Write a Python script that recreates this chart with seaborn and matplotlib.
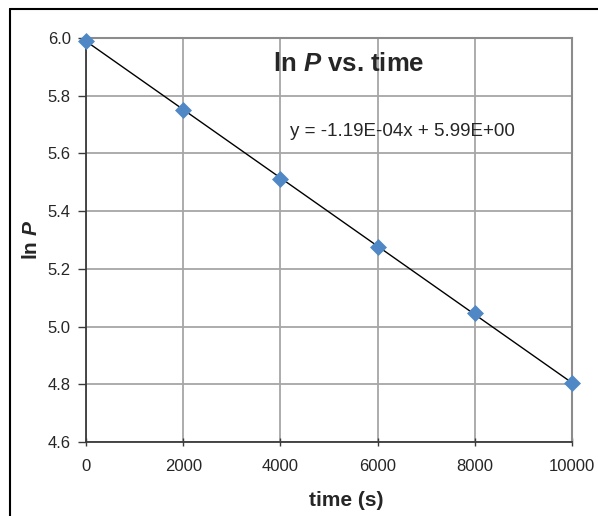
import numpy as np
import pandas as pd
import matplotlib
matplotlib.use("Agg")
import matplotlib.pyplot as plt
from matplotlib.lines import Line2D
import seaborn as sns

# data
time_s = [0, 2000, 4000, 6000, 8000, 10000]
ln_p = [5.99, 5.752, 5.513, 5.277, 5.047, 4.803]
x_ticks = [0, 2000, 4000, 6000, 8000, 10000]
y_ticks = [4.6, 4.8, 5.0, 5.2, 5.4, 5.6, 5.8, 6.0]
equation = "y = -1.19E-04x + 5.99E+00"

df = pd.DataFrame({"time": time_s, "lnP": ln_p})

sns.set_style("white")
plt.rcParams["font.family"] = ["Liberation Sans", "DejaVu Sans"]
plt.rcParams["mathtext.fontset"] = "custom"
plt.rcParams["mathtext.rm"] = "Liberation Sans"
plt.rcParams["mathtext.bf"] = "Liberation Sans:bold"
plt.rcParams["mathtext.bfit"] = "Liberation Sans:italic:bold"

fig = plt.figure(figsize=(5.98, 5.16), dpi=100)
ax = fig.add_axes([0.1438, 0.1434, 0.8127, 0.783])

# linear trendline
slope, intercept = np.polyfit(df["time"], df["lnP"], 1)
fit = pd.DataFrame({"time": [min(time_s), max(time_s)]})
fit["lnP"] = slope * fit["time"] + intercept
sns.lineplot(data=fit, x="time", y="lnP", color="black", linewidth=1.0, ax=ax, zorder=3)

sns.scatterplot(data=df, x="time", y="lnP", marker="D", s=75, color="#5088C6",
                linewidth=0, ax=ax, zorder=4, clip_on=False)

ax.set_xlim(0, 10000)
ax.set_ylim(4.6, 6.0)
ax.set_xticks(x_ticks)
ax.set_yticks(y_ticks)
ax.set_xticklabels([str(t) for t in x_ticks])
ax.set_yticklabels([f"{t:.1f}" for t in y_ticks])
ax.grid(True, color="#A6A6A6", linewidth=1.3)
ax.set_axisbelow(True)

for side in ["left", "bottom"]:
    ax.spines[side].set_color("#3A3A3A")
    ax.spines[side].set_linewidth(1.3)
for side in ["top", "right"]:
    ax.spines[side].set_color("#8C8C8C")
    ax.spines[side].set_linewidth(1.5)

ax.tick_params(axis="y", direction="out", length=6, width=1, color="#3A3A3A",
               labelsize=12, pad=5, left=True)
ax.tick_params(axis="x", direction="inout", length=6, width=1, color="#3A3A3A",
               labelsize=12, pad=9, bottom=True)

ax.set_xlabel("time (s)", fontsize=15, fontweight="bold")
ax.xaxis.set_label_coords(0.535, -0.122)
ax.set_ylabel(r"ln $\mathbfit{P}$", fontsize=15, fontweight="bold")
ax.yaxis.set_label_coords(-0.093, 0.5)

ax.text(0.541, 0.935, r"ln $\mathbfit{P}$ vs. time", transform=ax.transAxes,
        ha="center", va="center", fontsize=18.5, fontweight="bold")
ax.text(0.419, 0.768, equation, transform=ax.transAxes,
        ha="left", va="center", fontsize=13.5)

# outer frame edges (top and left)
fig.add_artist(Line2D([0.016, 1.0], [0.9826, 0.9826], color="black", linewidth=1.5,
                      transform=fig.transFigure))
fig.add_artist(Line2D([0.016, 0.016], [0.0, 0.9826], color="black", linewidth=1.5,
                      transform=fig.transFigure))

fig.savefig("out.png", dpi=100)
